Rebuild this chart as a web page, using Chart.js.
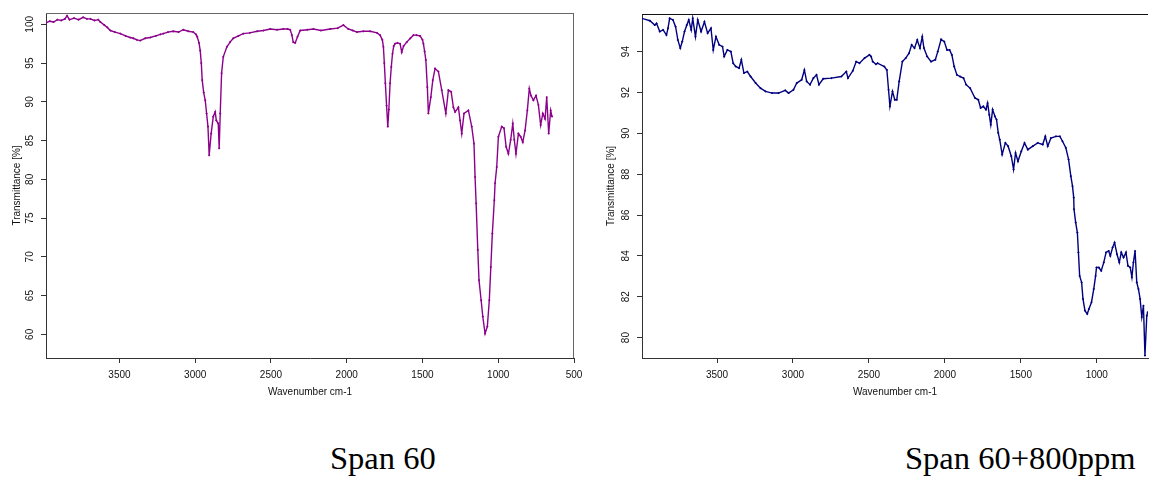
<!DOCTYPE html>
<html>
<head>
<meta charset="utf-8">
<script src="https://cdn.jsdelivr.net/npm/chart.js@4.4.1/dist/chart.umd.min.js"></script>
<style>
  body { margin: 0; background: #fff; width: 1153px; height: 477px; position: relative; overflow: hidden; }
  .box { position: absolute; top: 0; }
  .caption { position: absolute; font-family: "Liberation Serif", "Times New Roman", serif; font-size: 32.5px; line-height: 32.5px; color: #000; white-space: nowrap; }
</style>
</head>
<body>
<div class="box" style="left:0px"><canvas id="span60" width="590" height="410"></canvas></div>
<div class="box" style="left:596px"><canvas id="span60ppm" width="557" height="410"></canvas></div>
<div class="caption" style="left:330px; top:442px">Span 60</div>
<div class="caption" style="left:905px; top:442px">Span 60+800ppm</div>

<script>
// Span 60 spectrum
const span60Wavenumber = [
  3985, 3960, 3935, 3910, 3885, 3860, 3846, 3830, 3800, 3770, 3740, 3715, 3692, 3665, 3640, 3626,
  3600, 3580, 3560, 3530, 3494, 3460, 3430, 3409, 3385, 3363, 3330, 3297, 3260, 3230, 3211, 3180,
  3145, 3110, 3079, 3045, 3013, 2995, 2987, 2975, 2967, 2960, 2954, 2944, 2934, 2925, 2916, 2908,
  2895, 2881, 2868, 2861, 2848, 2842, 2835, 2826, 2815, 2791, 2770, 2749, 2715, 2683, 2640, 2591,
  2550, 2505, 2460, 2419, 2390, 2373, 2362, 2353, 2340, 2325, 2307, 2260, 2220, 2170, 2109, 2060,
  2022, 1990, 1960, 1933, 1890, 1846, 1800, 1780, 1765, 1758, 1752, 1745, 1737, 1729, 1722, 1714,
  1706, 1698, 1690, 1681, 1665, 1648, 1637, 1625, 1604, 1580, 1560, 1540, 1516, 1500, 1494, 1486,
  1478, 1468, 1461, 1445, 1432, 1417, 1395, 1373, 1346, 1329, 1311, 1296, 1285, 1263, 1252, 1241,
  1226, 1197, 1175, 1160, 1153, 1146, 1135, 1127, 1113, 1102, 1087, 1072, 1059, 1049, 1039, 1026,
  1021, 1010, 999, 977, 962, 948, 933, 918, 904, 894, 883, 867, 852, 838, 823, 808,
  795, 784, 768, 751, 735, 720, 706, 691, 680, 667, 654, 645
];
const span60Transmittance = [
  100.2, 100.4, 100.3, 100.6, 100.5, 100.7, 101.1, 100.6, 100.8, 100.6, 100.9, 100.7, 100.7, 100.5, 100.6, 100.3,
  99.9, 99.6, 99.2, 99.0, 98.8, 98.5, 98.3, 98.2, 98.0, 97.9, 98.2, 98.3, 98.5, 98.7, 98.8, 99.0,
  99.1, 99.0, 99.3, 99.1, 99.0, 98.7, 98.4, 97.6, 96.6, 95.0, 92.8, 91.2, 90.2, 88.5, 86.8, 83.1,
  85.9, 88.1, 88.7, 87.6, 87.2, 84.0, 88.5, 93.7, 95.8, 97.1, 97.7, 98.2, 98.5, 98.8, 98.9, 99.1,
  99.2, 99.4, 99.3, 99.4, 99.4, 99.3, 98.6, 97.7, 97.6, 98.4, 99.2, 99.3, 99.4, 99.2, 99.4, 99.5,
  99.9, 99.4, 99.2, 99.0, 99.1, 99.1, 98.9, 98.6, 98.0, 97.1, 95.0, 92.4, 89.5, 86.8, 89.0, 92.4,
  94.5, 96.2, 97.2, 97.5, 97.6, 97.5, 96.4, 97.2, 97.7, 98.2, 98.6, 98.6, 98.5, 98.0, 97.5, 96.5,
  95.4, 91.9, 88.5, 90.6, 92.8, 94.3, 93.9, 91.5, 88.5, 91.5, 91.3, 89.3, 88.7, 89.3, 87.6, 85.9,
  88.5, 88.9, 86.8, 84.6, 80.3, 76.9, 70.9, 67.0, 64.4, 62.3, 60.1, 61.0, 64.4, 68.7, 73.0, 77.3,
  79.5, 81.6, 85.5, 86.8, 86.6, 84.2, 83.3, 85.1, 87.2, 85.1, 83.3, 85.9, 85.5, 84.8, 86.3, 88.9,
  91.7, 90.8, 90.2, 90.8, 89.6, 87.0, 88.5, 87.8, 90.6, 85.9, 88.9, 88.1
];

// Span 60 + 800ppm spectrum
const span800Wavenumber = [
  3996, 3942, 3910, 3898, 3877, 3855, 3833, 3823, 3812, 3790, 3773, 3758, 3742, 3729, 3714, 3699,
  3686, 3670, 3660, 3642, 3627, 3605, 3583, 3562, 3540, 3525, 3507, 3486, 3464, 3453, 3432, 3409,
  3394, 3377, 3355, 3340, 3323, 3301, 3279, 3246, 3214, 3181, 3138, 3095, 3051, 3029, 2997, 2975,
  2943, 2925, 2910, 2888, 2866, 2845, 2829, 2801, 2747, 2682, 2649, 2638, 2606, 2584, 2562, 2529,
  2497, 2486, 2475, 2454, 2443, 2399, 2382, 2371, 2362, 2345, 2330, 2317, 2301, 2280, 2258, 2236,
  2219, 2200, 2182, 2164, 2149, 2138, 2117, 2091, 2063, 2047, 2025, 2004, 1986, 1969, 1954, 1939,
  1921, 1900, 1877, 1860, 1834, 1802, 1780, 1765, 1747, 1730, 1719, 1708, 1698, 1686, 1671, 1660,
  1649, 1639, 1623, 1602, 1584, 1563, 1548, 1535, 1519, 1497, 1476, 1454, 1421, 1389, 1356, 1339,
  1323, 1302, 1269, 1243, 1226, 1204, 1186, 1171, 1160, 1152, 1150, 1139, 1128, 1121, 1113, 1100,
  1091, 1078, 1063, 1052, 1035, 1020, 1008, 1002, 987, 971, 954, 939, 922, 911, 896, 883,
  867, 852, 839, 824, 808, 795, 780, 769, 759, 748, 737, 726, 715, 704, 693, 683,
  671, 665
];
const span800Transmittance = [
  95.63, 95.51, 95.30, 95.38, 94.98, 95.06, 94.81, 95.14, 95.63, 95.55, 95.22, 94.57, 94.17, 94.49, 94.98, 95.30,
  95.55, 95.06, 95.63, 94.73, 95.55, 94.98, 95.46, 94.90, 95.14, 94.08, 94.73, 94.33, 94.24, 93.76, 94.08, 94.00,
  93.43, 93.27, 93.19, 93.60, 92.95, 93.02, 92.78, 92.46, 92.21, 92.05, 91.97, 91.97, 92.10, 91.97, 92.13, 92.46,
  92.62, 93.10, 92.54, 92.38, 92.70, 92.86, 92.38, 92.67, 92.70, 92.78, 93.02, 92.70, 93.06, 93.51, 93.43, 93.68,
  93.84, 93.76, 93.51, 93.38, 93.43, 93.27, 93.10, 92.13, 91.32, 92.05, 91.64, 91.64, 92.54, 93.51, 93.68, 93.92,
  94.33, 94.17, 94.57, 94.17, 94.73, 94.17, 93.76, 93.51, 93.60, 94.00, 94.60, 94.49, 94.08, 94.08, 93.84, 93.27,
  92.86, 92.78, 92.70, 92.38, 92.21, 91.73, 91.64, 91.24, 91.32, 91.16, 91.48, 90.91, 90.42, 91.16, 90.83, 90.67,
  90.02, 89.69, 88.96, 89.53, 89.37, 88.88, 88.23, 89.04, 88.63, 89.12, 89.53, 89.20, 89.37, 89.53, 89.45, 89.85,
  89.37, 89.77, 89.85, 89.85, 89.61, 89.29, 88.72, 87.90, 87.41, 86.85, 86.28, 85.63, 85.14, 84.17, 83.02, 82.70,
  81.89, 81.32, 81.16, 81.40, 81.73, 82.38, 83.02, 83.43, 83.43, 83.27, 83.68, 84.17, 84.24, 84.00, 84.41, 84.65,
  84.08, 83.68, 84.17, 83.92, 84.17, 83.51, 83.43, 82.95, 83.68, 84.24, 82.70, 82.38, 81.89, 81.00, 81.56, 79.12,
  81.07, 81.24
];

const span60XTicks = [3500, 3000, 2500, 2000, 1500, 1000, 500];
const span60YTicks = [60, 65, 70, 75, 80, 85, 90, 95, 100];
const span800XTicks = [3500, 3000, 2500, 2000, 1500, 1000];
const span800YTicks = [80, 82, 84, 86, 88, 90, 92, 94];

const tickFont = { family: "'Liberation Sans', Arial, sans-serif", size: 10 };

// top / right box lines
function frame(id, sides, color) {
  return {
    id: id,
    afterDraw(chart) {
      const { ctx, chartArea: a } = chart;
      ctx.save();
      ctx.strokeStyle = color;
      ctx.lineWidth = 1;
      ctx.beginPath();
      if (sides.includes('top')) { ctx.moveTo(a.left, a.top + 0.5); ctx.lineTo(a.right, a.top + 0.5); }
      if (sides.includes('right')) { ctx.moveTo(a.right - 0.5, a.top); ctx.lineTo(a.right - 0.5, a.bottom); }
      ctx.stroke();
      ctx.restore();
    }
  };
}

// y tick labels written upwards, like the original plot
const upright = {
  id: 'uprightLabels',
  afterDraw(chart) {
    const s = chart.scales.y;
    const ctx = chart.ctx;
    ctx.save();
    ctx.font = "10px 'Liberation Sans', Arial, sans-serif";
    ctx.fillStyle = '#111';
    ctx.textAlign = 'center';
    ctx.textBaseline = 'middle';
    s.ticks.forEach(t => {
      ctx.save();
      ctx.translate(s.right - 15.5, s.getPixelForValue(t.value));
      ctx.rotate(-Math.PI / 2);
      ctx.fillText(String(t.value), 0, 0);
      ctx.restore();
    });
    ctx.restore();
  }
};

function makeChart(id, xs, ys, color, xMin, xMax, yMin, yMax, xTicks, yTicks, yTitlePad, padding, plugins) {
  return new Chart(document.getElementById(id), {
    type: 'scatter',
    data: {
      datasets: [{
        data: xs.map((x, i) => ({ x: x, y: ys[i] })),
        showLine: true,
        borderColor: color,
        backgroundColor: color,
        borderWidth: 1.4,
        pointRadius: 1,
        pointStyle: 'cross',
        pointBorderWidth: 1,
        tension: 0
      }]
    },
    options: {
      responsive: false,
      animation: false,
      layout: { padding: padding },
      plugins: { legend: { display: false }, tooltip: { enabled: false } },
      scales: {
        x: {
          type: 'linear',
          reverse: true,
          min: xMin,
          max: xMax,
          afterBuildTicks: s => { s.ticks = xTicks.map(v => ({ value: v })); },
          afterFit: s => { s.height = 52; },
          grid: { drawOnChartArea: false, drawTicks: true, tickLength: 5, color: '#333' },
          border: { color: '#333', width: 1 },
          ticks: { font: tickFont, color: '#111', padding: 6, maxRotation: 0, autoSkip: false, callback: v => String(v) },
          title: { display: true, text: 'Wavenumber cm-1', font: tickFont, color: '#111', padding: { top: 0, bottom: 12 } }
        },
        y: {
          type: 'linear',
          min: yMin,
          max: yMax,
          afterBuildTicks: s => { s.ticks = yTicks.map(v => ({ value: v })); },
          afterFit: s => { s.width = 46; },
          grid: { drawOnChartArea: false, drawTicks: true, tickLength: 5, color: '#333' },
          border: { color: '#333', width: 1 },
          ticks: { display: false },
          title: { display: true, text: 'Transmittance [%]', font: tickFont, color: '#111', padding: { top: yTitlePad, bottom: 0 } }
        }
      }
    },
    plugins: plugins.concat([upright])
  });
}

makeChart('span60', span60Wavenumber, span60Transmittance, 'rgb(140, 0, 140)',
  500, 3985, 56.95, 101.46, span60XTicks, span60YTicks, 11,
  { top: 13, right: 16, left: 0, bottom: 0 }, [frame('frame60', ['top', 'right'], '#666')]);

makeChart('span60ppm', span800Wavenumber, span800Transmittance, 'rgb(0, 0, 128)',
  663, 3994, 79.0, 95.84, span800XTicks, span800YTicks, 9,
  { top: 14, right: 0, left: 0, bottom: 0 }, [frame('frame800', ['top'], '#111')]);
</script>
</body>
</html>
